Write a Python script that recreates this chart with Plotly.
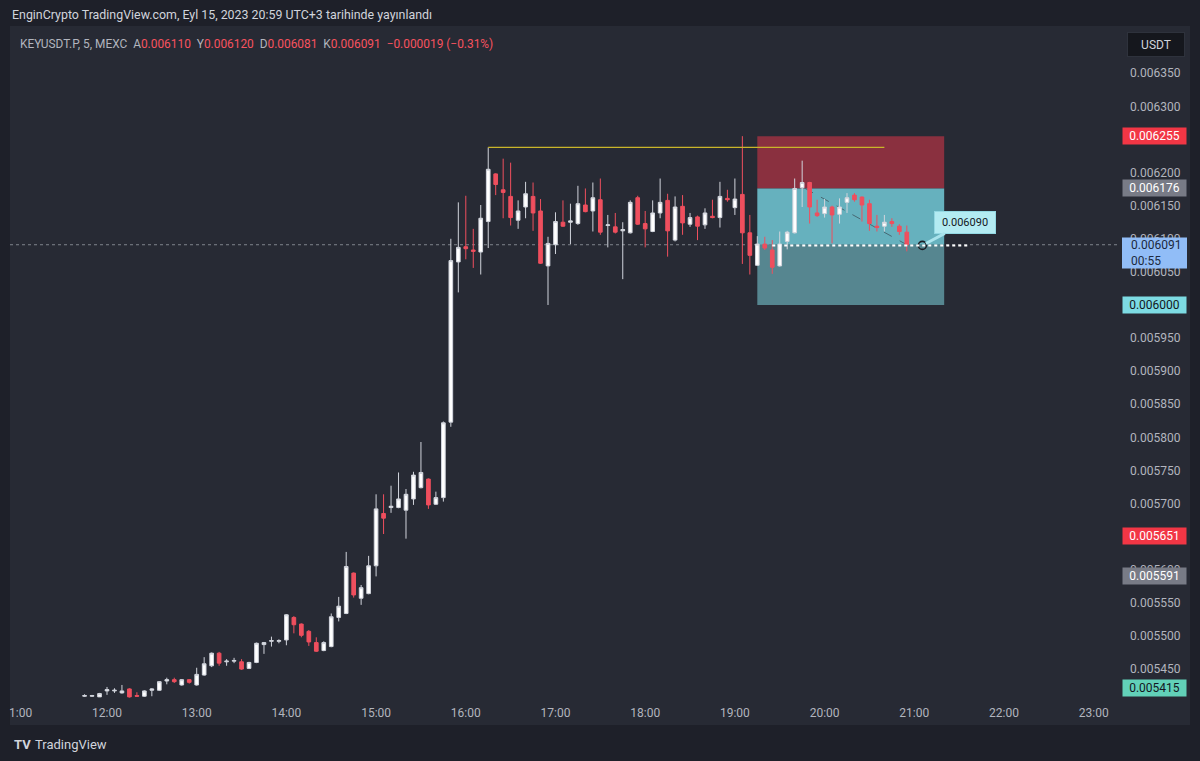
import plotly.graph_objects as go
import pandas as pd

# ---------------- data ----------------
start_time = "2023-09-15 11:45"
n_candles = 111
times = pd.date_range(start_time, periods=n_candles, freq="5min")

opens = [
    0.005409, 0.005409, 0.005408, 0.005417, 0.005417, 0.005414, 0.005420, 0.005410, 0.005409, 0.005418,
    0.005418, 0.005432, 0.005434, 0.005426, 0.005434, 0.005426, 0.005441, 0.005455, 0.005474, 0.005461,
    0.005462, 0.005461, 0.005451, 0.005460, 0.005487, 0.005492, 0.005492, 0.005494, 0.005528, 0.005518,
    0.005507, 0.005490, 0.005478, 0.005484, 0.005528, 0.005534, 0.005595, 0.005557, 0.005564, 0.005606,
    0.005685, 0.005694, 0.005694, 0.005690, 0.005707, 0.005724, 0.005737, 0.005699, 0.005709, 0.005823,
    0.006065, 0.006088, 0.006083, 0.006080, 0.006126, 0.006198, 0.006174, 0.006164, 0.006128, 0.006148,
    0.006164, 0.006142, 0.006059, 0.006091, 0.006125, 0.006125, 0.006123, 0.006151, 0.006142, 0.006159,
    0.006120, 0.006118, 0.006112, 0.006109, 0.006162, 0.006123, 0.006111, 0.006139, 0.006158, 0.006098,
    0.006149, 0.006122, 0.006133, 0.006121, 0.006134, 0.006132, 0.006161, 0.006147, 0.006167, 0.006109,
    0.006060, 0.006092, 0.006083, 0.006059, 0.006096, 0.006109, 0.006177, 0.006185, 0.006139, 0.006138,
    0.006148, 0.006137, 0.006155, 0.006166, 0.006163, 0.006153, 0.006119, 0.006119, 0.006126, 0.006119,
    0.006110,
]
highs = [
    0.005412, 0.005411, 0.005414, 0.005423, 0.005421, 0.005426, 0.005421, 0.005415, 0.005418, 0.005421,
    0.005432, 0.005437, 0.005437, 0.005435, 0.005435, 0.005452, 0.005468, 0.005475, 0.005476, 0.005465,
    0.005467, 0.005465, 0.005461, 0.005490, 0.005491, 0.005499, 0.005495, 0.005533, 0.005530, 0.005519,
    0.005509, 0.005498, 0.005492, 0.005534, 0.005559, 0.005627, 0.005596, 0.005577, 0.005621, 0.005714,
    0.005714, 0.005727, 0.005747, 0.005722, 0.005748, 0.005793, 0.005738, 0.005718, 0.005824, 0.006100,
    0.006155, 0.006165, 0.006115, 0.006151, 0.006238, 0.006199, 0.006221, 0.006215, 0.006158, 0.006186,
    0.006185, 0.006160, 0.006103, 0.006140, 0.006158, 0.006153, 0.006180, 0.006176, 0.006185, 0.006191,
    0.006136, 0.006139, 0.006125, 0.006158, 0.006165, 0.006142, 0.006158, 0.006191, 0.006168, 0.006164,
    0.006166, 0.006139, 0.006135, 0.006146, 0.006159, 0.006186, 0.006174, 0.006191, 0.006255, 0.006136,
    0.006104, 0.006103, 0.006098, 0.006111, 0.006112, 0.006191, 0.006218, 0.006186, 0.006159, 0.006160,
    0.006150, 0.006161, 0.006169, 0.006169, 0.006164, 0.006159, 0.006136, 0.006136, 0.006131, 0.006122,
    0.006120,
]
lows = [
    0.005408, 0.005408, 0.005408, 0.005411, 0.005414, 0.005413, 0.005407, 0.005408, 0.005408, 0.005409,
    0.005417, 0.005427, 0.005429, 0.005425, 0.005428, 0.005425, 0.005440, 0.005453, 0.005455, 0.005455,
    0.005459, 0.005449, 0.005450, 0.005459, 0.005473, 0.005484, 0.005489, 0.005486, 0.005504, 0.005498,
    0.005485, 0.005476, 0.005477, 0.005483, 0.005522, 0.005533, 0.005558, 0.005547, 0.005563, 0.005590,
    0.005654, 0.005686, 0.005693, 0.005647, 0.005698, 0.005723, 0.005692, 0.005698, 0.005703, 0.005816,
    0.006019, 0.006069, 0.006056, 0.006046, 0.006086, 0.006166, 0.006131, 0.006120, 0.006115, 0.006131,
    0.006112, 0.006062, 0.006000, 0.006077, 0.006118, 0.006092, 0.006121, 0.006140, 0.006111, 0.006106,
    0.006087, 0.006108, 0.006039, 0.006108, 0.006121, 0.006087, 0.006110, 0.006131, 0.006073, 0.006096,
    0.006106, 0.006118, 0.006098, 0.006115, 0.006131, 0.006117, 0.006156, 0.006136, 0.006062, 0.006046,
    0.006059, 0.006083, 0.006047, 0.006058, 0.006084, 0.006108, 0.006148, 0.006123, 0.006133, 0.006132,
    0.006093, 0.006123, 0.006139, 0.006156, 0.006126, 0.006112, 0.006111, 0.006111, 0.006118, 0.006106,
    0.006081,
]
closes = [
    0.005410, 0.005410, 0.005413, 0.005419, 0.005418, 0.005417, 0.005408, 0.005409, 0.005417, 0.005420,
    0.005431, 0.005434, 0.005431, 0.005434, 0.005430, 0.005442, 0.005458, 0.005474, 0.005459, 0.005462,
    0.005463, 0.005450, 0.005460, 0.005489, 0.005490, 0.005493, 0.005493, 0.005532, 0.005517, 0.005501,
    0.005491, 0.005477, 0.005490, 0.005529, 0.005545, 0.005605, 0.005562, 0.005573, 0.005606, 0.005692,
    0.005678, 0.005696, 0.005707, 0.005714, 0.005743, 0.005747, 0.005698, 0.005709, 0.005822, 0.006067,
    0.006087, 0.006085, 0.006081, 0.006131, 0.006205, 0.006182, 0.006170, 0.006132, 0.006142, 0.006168,
    0.006139, 0.006063, 0.006093, 0.006126, 0.006119, 0.006127, 0.006153, 0.006141, 0.006162, 0.006110,
    0.006121, 0.006110, 0.006114, 0.006155, 0.006122, 0.006115, 0.006139, 0.006155, 0.006112, 0.006148,
    0.006124, 0.006132, 0.006119, 0.006139, 0.006132, 0.006164, 0.006159, 0.006160, 0.006109, 0.006075,
    0.006092, 0.006086, 0.006057, 0.006092, 0.006110, 0.006176, 0.006185, 0.006148, 0.006135, 0.006148,
    0.006136, 0.006148, 0.006162, 0.006159, 0.006151, 0.006123, 0.006117, 0.006125, 0.006123, 0.006111,
    0.006091,
]

# axis ticks (those fully hidden behind price labels in the reference are left out)
y_tick_vals = [0.00545, 0.0055, 0.00555, 0.0056, 0.0057, 0.00575, 0.0058, 0.00585,
               0.0059, 0.00595, 0.00605, 0.0061, 0.00615, 0.0062, 0.0063, 0.00635]

# position tool (short): entry / stop / target / current
entry_price = 0.006176
stop_price = 0.006255
target_price = 0.006000
current_price = 0.006091
note_price = 0.006090
level_line_price = 0.006238
countdown = "00:55"

# axis side price labels: value, background, text colour, vertical pixel shift
side_labels = [
    (0.006255, "#f23645", "#ffffff", 0),
    (0.006176, "#787b86", "#ffffff", 0),
    (0.006000, "#7ddbe3", "#131722", 0),
    (0.005651, "#f23645", "#ffffff", 0),
    (0.005591, "#787b86", "#ffffff", 0),
    (0.005415, "#62d1b8", "#131722", 4),
]

# ---------------- layout geometry ----------------
W, H = 1200, 761
PL, PR, PT, PB = 10, 1117, 27, 700
OUTER = "#1e2029"
PANE = "#272a34"
AXIS_TXT = "#b2b5be"
FONT = "Roboto"


def px_x(px):
    return (px - PL) / (PR - PL)


def px_y(py):
    return (PB - py) / (PB - PT)


fig = go.Figure()

fig.add_trace(go.Candlestick(
    x=times, open=opens, high=highs, low=lows, close=closes,
    increasing=dict(line=dict(color="#d1d4dc", width=1), fillcolor="#ffffff"),
    decreasing=dict(line=dict(color="#ef4f5e", width=1), fillcolor="#ef4f5e"),
    whiskerwidth=0, hoverinfo="skip", showlegend=False,
))

# price-note point
fig.add_trace(go.Scatter(
    x=["2023-09-15 21:05:24"], y=[note_price], mode="markers",
    marker=dict(symbol="circle-open", size=8, color="#1b1e25", line=dict(width=1.6)),
    hoverinfo="skip", showlegend=False,
))

shapes = [
    # chart pane
    dict(type="rect", xref="paper", yref="paper", x0=px_x(10), x1=px_x(1190),
         y0=px_y(725), y1=px_y(26), fillcolor=PANE, line=dict(width=0), layer="below"),
    # stop zone
    dict(type="rect", xref="x", yref="y", x0="2023-09-15 19:15", x1="2023-09-15 21:20",
         y0=entry_price, y1=stop_price, fillcolor="#8a303f", line=dict(width=0), layer="below"),
    # target zone (entry -> current)
    dict(type="rect", xref="x", yref="y", x0="2023-09-15 19:15", x1="2023-09-15 21:20",
         y0=current_price, y1=entry_price, fillcolor="#66b1be", line=dict(width=0), layer="below"),
    # target zone (current -> target)
    dict(type="rect", xref="x", yref="y", x0="2023-09-15 19:15", x1="2023-09-15 21:20",
         y0=target_price, y1=current_price, fillcolor="#568690", line=dict(width=0), layer="below"),
    # current price dotted line
    dict(type="line", xref="paper", yref="y", x0=0, x1=1, y0=current_price, y1=current_price,
         line=dict(color="#7f838d", width=1, dash="dot"), layer="below"),
    # diagonal dashed connector
    dict(type="line", xref="x", yref="y", x0="2023-09-15 19:47", x1="2023-09-15 20:55",
         y0=entry_price, y1=current_price,
         line=dict(color="rgba(60,80,90,0.75)", width=1, dash="dash"), layer="below"),
    # yellow horizontal level
    dict(type="line", xref="x", yref="y", x0="2023-09-15 16:15", x1="2023-09-15 20:40",
         y0=level_line_price, y1=level_line_price,
         line=dict(color="#c9b52a", width=1.2), layer="above"),
    # white dotted note line
    dict(type="line", xref="x", yref="y", x0="2023-09-15 19:25", x1="2023-09-15 21:36",
         y0=note_price, y1=note_price,
         line=dict(color="#ffffff", width=2, dash="dot"), layer="above"),
    # clip time labels at the pane's left edge
    dict(type="rect", xref="paper", yref="paper", x0=px_x(-2), x1=px_x(9.5),
         y0=px_y(726), y1=px_y(699), fillcolor=OUTER, line=dict(width=0), layer="above"),
    # current price label box (price + countdown)
    dict(type="rect", xref="paper", yref="paper", x0=px_x(1122), x1=px_x(1187),
         y0=px_y(268.5), y1=px_y(237.5), fillcolor="#91bdf7", line=dict(width=0), layer="above"),
]

annotations = []

# header
annotations.append(dict(
    xref="paper", yref="paper", x=px_x(10), y=px_y(14), xanchor="left", yanchor="middle",
    text="EnginCrypto TradingView.com, Eyl 15, 2023 20:59 UTC+3 tarihinde yayınlandı",
    showarrow=False, font=dict(family=FONT, size=12.4, color="#d1d4dc"),
))

# symbol legend
red = "#f7525f"
sp = "\u00a0\u00a0"
legend_text = (
    "KEYUSDT.P, 5, MEXC" + sp
    + "A<span style='color:%s'>0.006110</span>" % red + sp
    + "Y<span style='color:%s'>0.006120</span>" % red + sp
    + "D<span style='color:%s'>0.006081</span>" % red + sp
    + "K<span style='color:%s'>0.006091</span>" % red + sp
    + "<span style='color:%s'>\u22120.000019 (\u22120.31%%)</span>" % red
)
annotations.append(dict(
    xref="paper", yref="paper", x=px_x(18), y=px_y(44), xanchor="left", yanchor="middle",
    text=legend_text, showarrow=False, font=dict(family=FONT, size=11.9, color="#b2b5be"),
))

# USDT button
annotations.append(dict(
    xref="paper", yref="paper", x=px_x(1156), y=px_y(44), xanchor="center", yanchor="middle",
    text="USDT", showarrow=False, font=dict(family=FONT, size=12, color="#d1d4dc"),
    bgcolor="#15171d", bordercolor="#2e323c", borderwidth=1, width=54, height=21, borderpad=1,
))

# side price labels
for val, bg, fg, shift in side_labels:
    annotations.append(dict(
        xref="paper", yref="y", x=px_x(1122), y=val, xanchor="left", yanchor="middle",
        yshift=shift, text="%.6f" % val, showarrow=False, align="center",
        font=dict(family=FONT, size=12, color=fg), bgcolor=bg, width=63, height=16, borderpad=0,
    ))

# current price + countdown text (box drawn as a shape)
annotations.append(dict(
    xref="paper", yref="paper", x=px_x(1129), y=px_y(253), xanchor="left", yanchor="middle",
    text="%.6f<br>%s" % (current_price, countdown), showarrow=False, align="left",
    font=dict(family=FONT, size=12, color="#1c2a40"),
))

# price note callout
annotations.append(dict(
    xref="x", yref="y", x="2023-09-15 21:05:24", y=note_price,
    text="%.6f" % note_price, showarrow=True, arrowhead=0, arrowwidth=3,
    arrowcolor="#a9e3ec", ax=43, ay=-23, standoff=4,
    font=dict(family=FONT, size=11, color="#131722"), bgcolor="#b3ebf2",
    bordercolor="#93d8e3", borderwidth=1, width=58, height=19, borderpad=1,
))

# footer logo
annotations.append(dict(
    xref="paper", yref="paper", x=px_x(12), y=px_y(744), xanchor="left", yanchor="middle",
    text="<b>TV</b>", showarrow=False, font=dict(family=FONT, size=13, color="#d1d4dc"),
))
annotations.append(dict(
    xref="paper", yref="paper", x=px_x(33), y=px_y(744), xanchor="left", yanchor="middle",
    text="TradingView", showarrow=False, font=dict(family=FONT, size=13, color="#d1d4dc"),
))

fig.update_layout(
    width=W, height=H,
    margin=dict(l=PL, r=W - PR, t=PT, b=H - PB, autoexpand=False),
    paper_bgcolor=OUTER, plot_bgcolor=PANE,
    showlegend=False,
    shapes=shapes, annotations=annotations,
    xaxis=dict(
        type="date", range=["2023-09-15 10:55:07", "2023-09-15 23:15:36"],
        tick0="2023-09-15 00:00", dtick=3600000, tickformat="%H:%M",
        showgrid=False, zeroline=False, showline=False, ticks="",
        tickfont=dict(family=FONT, size=12, color=AXIS_TXT),
        ticklabelstandoff=4,
        rangeslider=dict(visible=False), fixedrange=True,
    ),
    yaxis=dict(
        side="right", range=[0.0054033, 0.0064199],
        tickvals=y_tick_vals, ticktext=["%.6f" % v for v in y_tick_vals],
        showgrid=False, zeroline=False, showline=False, ticks="",
        tickfont=dict(family=FONT, size=12, color=AXIS_TXT),
        ticklabelstandoff=12, fixedrange=True,
    ),
)

fig.write_html("out.html")
